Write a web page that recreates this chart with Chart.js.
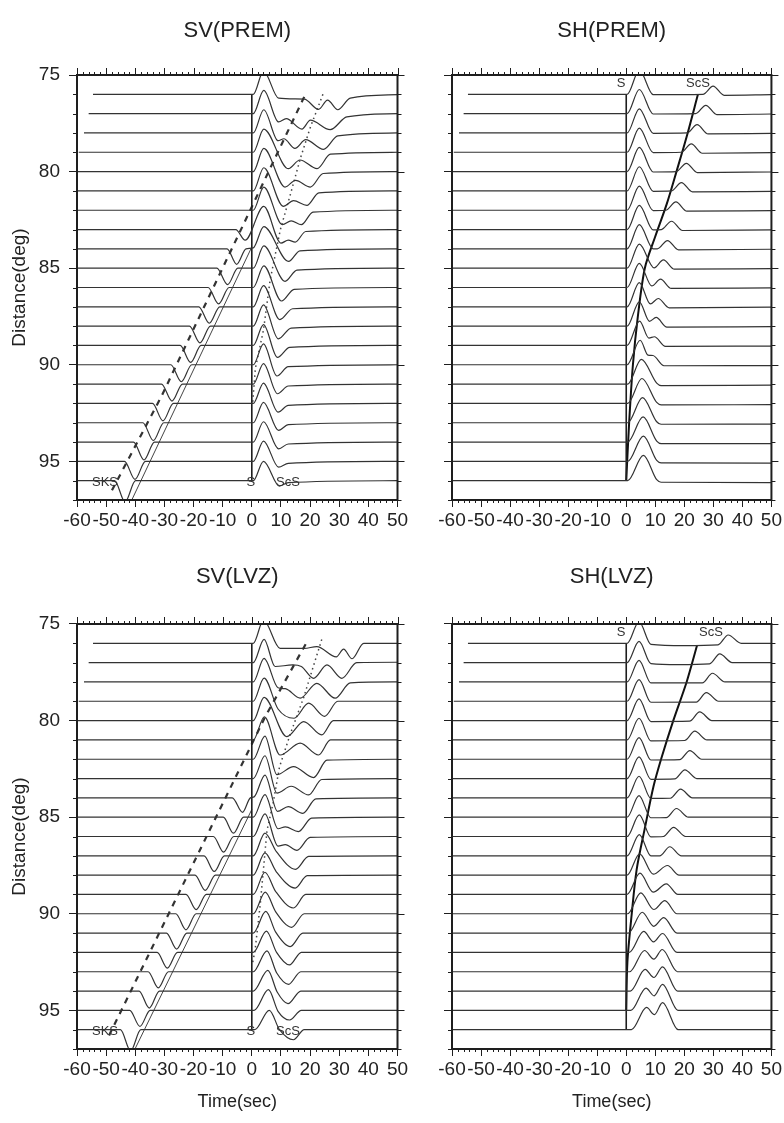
<!DOCTYPE html>
<html>
<head>
<meta charset="utf-8">
<script src="https://cdn.jsdelivr.net/npm/chart.js@4.4.1/dist/chart.umd.min.js"></script>
<style>
  body { margin: 0; background: #fff; width: 784px; height: 1123px; position: relative; overflow: hidden; }
  canvas { position: absolute; }
</style>
</head>
<body>
<script>
// epicentral distance of each trace (deg) and the reduced time where each record begins (sec)
const distances = [76, 77, 78, 79, 80, 81, 82, 83, 84, 85, 86, 87, 88, 89, 90, 91, 92, 93, 94, 95, 96];
const traceStart = [-54.5, -56, -57.6, -59.4, -60, -60, -60, -60, -60, -60, -60, -60, -60, -60, -60, -60, -60, -60, -60, -60, -60];
const xTicks = [-60, -50, -40, -30, -20, -10, 0, 10, 20, 30, 40, 50];
const yTicks = [75, 80, 85, 90, 95];

// wiggles: [time (sec), amplitude (deg, up = positive)]
const svPremTraces = [
  [[0.5,0],[4,1.2],[9.2,-0.2],[18,-0.25],[22.9,-0.78],[26,-0.3],[29.5,-0.8],[33.8,-0.2],[50,-0.02]],
  [[0.5,0],[4.1,1.2],[9.2,-0.43],[11.8,-0.26],[17.2,-0.8],[20.1,-0.34],[26.9,-0.83],[32.6,-0.17],[50,0]],
  [[0.5,0],[4.1,1.2],[9,-0.4],[11,-0.3],[14.8,-0.8],[18.5,-0.35],[24.6,-0.85],[29.5,-0.15],[50,0]],
  [[0.5,0],[4.1,1.2],[12.5,-0.85],[16.5,-0.4],[22.4,-0.85],[27,-0.1],[50,0]],
  [[0.5,0],[4.1,1.2],[11.4,-0.8],[15,-0.45],[20.1,-0.8],[24.5,-0.1],[50,0]],
  [[0.5,0],[4.1,1.2],[10.8,-0.8],[14.3,-0.5],[18.9,-0.75],[23,-0.1],[50,0]],
  [[0.5,0],[4.1,1.2],[10.5,-0.75],[13.5,-0.55],[17,-0.75],[21,-0.1],[50,0]],
  [[-5.5,0],[-2.3,-0.55],[4.1,1.2],[10,-0.7],[12.5,-0.55],[14.9,-0.65],[18.5,-0.1],[50,0]],
  [[-8.5,0],[-5.2,-0.8],[-2,0],[0.5,0.05],[4.1,1.15],[12.6,-0.65],[16.5,-0.1],[50,0]],
  [[-12,0],[-8.3,-0.85],[-4.8,0],[0.5,0],[4.1,1.15],[11.4,-0.68],[15.5,-0.1],[50,0]],
  [[-15,0],[-11.4,-0.85],[-7.8,0],[0.5,0],[4.1,1.12],[10.2,-0.7],[14.5,-0.1],[50,0]],
  [[-18.2,0],[-14.6,-0.85],[-11,0],[0.5,0],[4,1.1],[9.6,-0.66],[14,-0.1],[50,0]],
  [[-21.4,0],[-17.8,-0.87],[-14.2,0],[0.5,0],[4,1.1],[9.1,-0.66],[13.5,-0.1],[50,0]],
  [[-24.6,0],[-21,-0.88],[-17.4,0],[0.5,0],[4,1.08],[8.8,-0.62],[13,-0.1],[50,0]],
  [[-27.8,0],[-24.2,-0.88],[-20.6,0],[0.5,0],[4,1.08],[8.6,-0.58],[12.5,-0.1],[50,0]],
  [[-31,0],[-27.4,-0.88],[-23.8,0],[0.5,0],[4,1.06],[8.8,-0.5],[12.5,-0.1],[50,0]],
  [[-34.1,0],[-30.5,-0.9],[-26.9,0],[0.5,0],[4,1.05],[9,-0.45],[12.5,-0.1],[50,0]],
  [[-37.4,0],[-33.8,-0.92],[-30.2,0],[0.5,0],[4,1.05],[9.2,-0.4],[12.5,-0.1],[50,0]],
  [[-40.6,0],[-37,-0.93],[-33.4,0],[0.5,0],[4,1.05],[9.2,-0.35],[12.5,-0.1],[50,0]],
  [[-43.7,0],[-40.1,-0.93],[-36.5,0],[0.5,0],[4,1.05],[9.2,-0.3],[12.5,-0.1],[50,0]],
  [[-47.1,0],[-43.5,-1.1],[-39.9,0],[0.5,0],[4,1.0],[9.5,-0.28],[12.5,-0.1],[50,0]]
];

const shPremTraces = [
  [[0.3,0],[4.5,1.25],[9.3,-0.02],[26.4,0],[29.9,0.42],[33.7,-0.05],[50,-0.02]],
  [[0.3,0],[4.5,1.25],[9.3,-0.02],[23.9,0],[27.4,0.43],[31.2,-0.05],[50,-0.02]],
  [[0.3,0],[4.5,1.25],[9.3,-0.02],[20.9,0],[24.4,0.43],[28.2,-0.05],[50,-0.02]],
  [[0.3,0],[4.5,1.25],[9.3,-0.02],[18.9,0],[22.4,0.43],[26.2,-0.05],[50,-0.02]],
  [[0.3,0],[4.5,1.25],[9.3,-0.02],[17.2,0],[20.7,0.43],[24.5,-0.05],[50,-0.02]],
  [[0.3,0],[4.5,1.25],[9.3,-0.02],[15.5,0],[19,0.43],[22.8,-0.05],[50,-0.02]],
  [[0.3,0],[4.5,1.25],[9.3,-0.02],[13.6,0],[17.1,0.43],[20.9,-0.05],[50,-0.02]],
  [[0.3,0],[4.5,1.25],[9.3,-0.02],[12.1,0],[15.6,0.43],[19.4,-0.05],[50,-0.02]],
  [[0.3,0],[4.5,1.25],[9.3,0],[10.7,0],[14.2,0.43],[18,-0.05],[50,-0.02]],
  [[0.3,0],[4.5,1.25],[9.6,0.02],[12.8,0.43],[16.6,-0.05],[50,-0.02]],
  [[0.3,0],[4.5,1.25],[8.8,0.08],[11.8,0.43],[15.5,-0.05],[50,-0.02]],
  [[0.3,0],[4.5,1.25],[8.3,0.15],[11,0.43],[14.8,-0.05],[50,-0.02]],
  [[0.3,0],[4.5,1.26],[8,0.25],[10.3,0.45],[14,-0.05],[50,-0.03]],
  [[0.3,0],[4.6,1.26],[7.8,0.38],[9.7,0.45],[13.5,-0.05],[50,-0.03]],
  [[0.3,0],[4.8,1.27],[7.5,0.5],[9.2,0.48],[13,-0.05],[50,-0.04]],
  [[0.5,0],[5.2,1.28],[10.5,0.05],[12,-0.08],[50,-0.05]],
  [[0.5,0],[5.4,1.29],[10.5,0.05],[12,-0.08],[50,-0.06]],
  [[0.5,0],[5.6,1.3],[10.5,0.05],[12,-0.08],[50,-0.07]],
  [[0.5,0],[5.8,1.3],[10.5,0.05],[12,-0.08],[50,-0.08]],
  [[0.5,0],[5.9,1.31],[10.5,0.05],[12,-0.08],[50,-0.09]],
  [[0.5,0],[5.9,1.31],[10.5,0.05],[12,-0.08],[50,-0.1]]
];

const svLvzTraces = [
  [[0.5,0],[4,1.2],[9.7,-0.26],[18,-0.26],[22.3,-0.17],[29,-0.7],[31.5,-0.3],[34.4,-0.8],[38.4,0],[50,0]],
  [[0.5,0],[4.2,1.2],[8,-0.2],[14,-0.12],[17,-0.2],[21.2,-0.81],[25.8,-0.12],[30.9,-0.81],[36,0],[50,0.02]],
  [[0.5,0],[4.2,1.22],[9,-0.3],[11.5,-0.35],[16.6,-0.84],[22.3,-0.07],[28.6,-0.84],[33.8,-0.05],[50,0]],
  [[0.5,0],[4.2,1.2],[9,-0.4],[14.5,-0.88],[19.5,-0.1],[25,-0.78],[29.5,0],[50,0]],
  [[0.5,0],[4.2,1.2],[12,-0.83],[17.8,-0.05],[24,-0.74],[28,0],[50,0]],
  [[0.5,0],[4.3,1.2],[9.7,-0.78],[16.6,-0.17],[22.9,-0.78],[27,0],[50,0]],
  [[0.5,0],[4.5,1.2],[8.6,-0.8],[14.3,-0.38],[21.2,-0.95],[25.8,-0.05],[50,0]],
  [[0.5,0],[4.5,1.18],[8.6,-0.75],[13.5,-0.4],[19.5,-0.85],[24,-0.05],[50,0]],
  [[-6.7,0],[-3.2,-0.75],[-0.5,0],[0.8,0.05],[4.5,1.18],[8.8,-0.7],[12.5,-0.45],[17.5,-0.8],[22,-0.05],[50,0]],
  [[-9.8,0],[-6.3,-0.83],[-2.8,0],[0.5,0],[4.5,1.17],[9,-0.6],[11.5,-0.5],[16,-0.75],[20.5,-0.05],[50,0]],
  [[-13.2,0],[-9.7,-0.81],[-6.2,0],[0.5,0],[4.5,1.17],[9,-0.5],[11.5,-0.42],[15.5,-0.72],[20,-0.05],[50,0]],
  [[-16.4,0],[-12.9,-0.81],[-9.4,0],[0.5,0],[4.5,1.17],[8.5,0.2],[15,-0.7],[19.5,-0.03],[50,0]],
  [[-19.5,0],[-16,-0.79],[-12.5,0],[0.5,0],[4.5,1.15],[8.3,0.2],[14.9,-0.67],[19,-0.03],[50,0]],
  [[-22.6,0],[-19.1,-0.79],[-15.6,0],[0.5,0],[4.5,1.15],[8.2,0.15],[14.3,-0.7],[18.5,0],[50,0]],
  [[-26.1,0],[-22.6,-0.83],[-19.1,0],[0.5,0],[4.6,1.12],[8.2,0.1],[13.7,-0.7],[18,0],[50,0]],
  [[-29.3,0],[-25.8,-0.83],[-22.3,0],[0.5,0],[4.8,1.12],[8.2,0.05],[13.2,-0.7],[17.5,0],[50,0]],
  [[-32.5,0],[-29,-0.81],[-25.5,0],[0.5,0],[5,1.1],[8.5,0],[12.9,-0.65],[17,0],[50,0]],
  [[-35.6,0],[-32.1,-0.84],[-28.6,0],[0.5,0],[5.2,1.08],[8.5,-0.05],[12.6,-0.65],[16.8,0],[50,0]],
  [[-38.7,0],[-35.2,-0.88],[-31.7,0],[0.5,0],[5.5,1.07],[8.7,-0.05],[12.4,-0.65],[16.8,0],[50,0]],
  [[-41.9,0],[-38.4,-0.83],[-34.9,0],[0.8,0],[5.7,1.07],[9,-0.05],[13,-0.5],[17,0],[50,0]],
  [[-45.1,0],[-41.6,-1.1],[-38.1,0],[1,0],[6,1.0],[9.5,0],[14.3,-0.52],[18,0],[50,0]]
];

const shLvzTraces = [
  [[0.3,0],[4.4,1.12],[8.5,-0.05],[20,-0.12],[31.6,-0.08],[35.1,0.43],[39.6,0],[50,0]],
  [[0.3,0],[4.4,1.1],[8.5,-0.05],[18,-0.1],[28.7,-0.06],[32.2,0.45],[36.5,0],[50,0]],
  [[0.3,0],[4.4,1.12],[8.5,-0.05],[26.2,-0.05],[29.7,0.45],[34,0],[50,0]],
  [[0.3,0],[4.4,1.12],[8.5,-0.05],[24.1,-0.04],[27.6,0.45],[31.8,0],[50,0]],
  [[0.3,0],[4.4,1.12],[8.5,-0.05],[21.8,-0.03],[25.3,0.45],[29.5,0],[50,0]],
  [[0.3,0],[4.4,1.12],[8.5,-0.05],[20.1,-0.03],[23.6,0.45],[27.8,0],[50,0]],
  [[0.3,0],[4.4,1.12],[8.5,-0.04],[18.4,-0.02],[21.9,0.45],[26,0],[50,0]],
  [[0.3,0],[4.4,1.12],[8.5,-0.04],[16.7,-0.02],[20.2,0.45],[24.3,0],[50,0]],
  [[0.3,0],[4.4,1.12],[8.5,-0.03],[15.2,-0.02],[18.7,0.45],[22.8,0],[50,0]],
  [[0.3,0],[4.4,1.12],[8.5,-0.03],[13.8,-0.02],[17.3,0.45],[21.4,0],[50,0]],
  [[0.3,0],[4.5,1.12],[8.5,-0.02],[12.8,0],[16.3,0.47],[20.4,0],[50,0]],
  [[0.3,0],[4.5,1.1],[8.5,0],[11.5,0],[15,0.47],[19,0],[50,0]],
  [[0.3,0],[4.6,1.1],[9.3,0.05],[14.2,0.5],[18.2,0],[50,0]],
  [[0.3,0],[4.7,1.1],[9.3,0.12],[13.8,0.55],[17.8,0],[50,0]],
  [[0.5,0],[5,1.08],[9.5,0.22],[13.3,0.68],[17.5,0],[50,0]],
  [[0.7,0],[5.5,1.08],[9.5,0.35],[12.9,0.8],[17.5,0],[50,0]],
  [[1,0],[6,1.09],[9.4,0.55],[12.5,0.98],[17.5,0],[50,0]],
  [[1.2,0],[6.3,1.1],[9.5,0.65],[12.4,1.15],[17.6,0],[50,0]],
  [[1.4,0],[6.5,1.12],[9.5,0.7],[12.5,1.25],[17.7,0],[50,0]],
  [[1.6,0],[6.8,1.15],[9.6,0.75],[12.5,1.35],[17.8,0],[50,0]],
  [[1.8,0],[7,1.15],[9.7,0.78],[12.5,1.4],[17.9,0],[50,0]]
];

// travel-time curves: [time (sec), distance (deg)]
const sLine = [[0, 76], [0, 96]];
const svPremDashed = [[-48, 96.5], [-30.9, 91.6], [18.4, 76]];
const svPremDotted = [[24.4,76],[20.1,77.7],[16.7,79.3],[13.2,81.2],[9.8,83],[6.3,85.6],[4,88.2],[1.2,90.2],[0.3,92]];
const svPremSks = [[-41.2, 97], [0, 83.9]];
const svLvzDashed = [[-49, 96.3], [4.6, 79.8], [19, 75.9]];
const svLvzDotted = [[24,75.8],[17.8,78.8],[13.2,80.7],[9.5,82.4],[7.4,84.2],[5.2,85.7],[2.9,89.5],[1.1,91.9],[0.2,92.6]];
const svLvzSks = [[-40.1, 97], [0, 84.6]];
const shPremScs = [[24.7,76],[20.8,78.2],[17.3,80],[13.9,81.7],[9.9,83.4],[6.4,85],[4,87.5],[2.3,90],[1,93],[0,96]];
const shLvzScs = [[24.4,76.1],[20.8,78],[16.2,80],[12.2,81.9],[9.4,83.4],[6.5,85.5],[3.6,87.7],[1.9,90],[0.4,92.5],[0,95]];

// phase names: [text, time, distance]
const svPhaseLabels = [['SKS', -50.4, 96.1], ['S', -0.3, 96.1], ['ScS', 12.4, 96.1]];
const shPremPhaseLabels = [['S', -1.8, 75.45], ['ScS', 24.7, 75.45]];
const shLvzPhaseLabels = [['S', -1.8, 75.45], ['ScS', 29.2, 75.45]];

const FONT = "'Liberation Sans', Arial, Helvetica, sans-serif";
const INK = '#1e1e1e';

var toXY = function (pts) {
    return pts.map(function (p) { return {x: p[0], y: p[1]}; });
};

var framePlugin = {
    id: 'frame',
    afterDraw: function (chart) {
        var ctx = chart.ctx, a = chart.chartArea, x = chart.scales.x, y = chart.scales.y;
        ctx.save();
        ctx.strokeStyle = INK;
        ctx.lineWidth = 1;
        ctx.beginPath();
        for (var t = -60; t <= 50; t += 2) {
            var px = Math.round(x.getPixelForValue(t)) + 0.5;
            var major = t % 10 === 0;
            ctx.moveTo(px, a.top); ctx.lineTo(px, a.top - (major ? 7 : 3));
            if (!major) { ctx.moveTo(px, a.bottom); ctx.lineTo(px, a.bottom + 3); }
        }
        for (var d = 75; d <= 97; d++) {
            var py = Math.round(y.getPixelForValue(d)) + 0.5;
            var big = d % 5 === 0;
            ctx.moveTo(a.right, py); ctx.lineTo(a.right + (big ? 7 : 4), py);
            if (!big) { ctx.moveTo(a.left, py); ctx.lineTo(a.left - 4, py); }
        }
        ctx.stroke();
        ctx.lineWidth = 2;
        ctx.strokeRect(a.left, a.top, a.right - a.left, a.bottom - a.top);

        var labels = chart.options.plugins.frame.labels || [];
        ctx.font = '13px ' + FONT;
        ctx.fillStyle = '#333';
        ctx.textAlign = 'center';
        ctx.textBaseline = 'middle';
        labels.forEach(function (l) {
            ctx.fillText(l[0], x.getPixelForValue(l[1]), y.getPixelForValue(l[2]));
        });
        ctx.restore();
    }
};

function makePanel(p) {
    var canvas = document.createElement('canvas');
    canvas.width = p.w; canvas.height = p.h;
    canvas.style.left = p.left + 'px'; canvas.style.top = p.top + 'px';
    document.body.appendChild(canvas);

    var datasets = [];
    distances.forEach(function (d, i) {
        var pts = [[traceStart[i], 0]].concat(p.traces[i]);
        datasets.push({
            data: pts.map(function (q) { return {x: q[0], y: d - q[1]}; }),
            borderColor: '#333', borderWidth: 1.2, pointRadius: 0,
            cubicInterpolationMode: 'monotone', clip: 0
        });
    });
    p.lines.forEach(function (l) {
        datasets.push(Object.assign({
            data: toXY(l.data), pointRadius: 0, tension: 0, clip: 0,
            borderColor: INK, borderWidth: 1.5
        }, l.style));
    });

    new Chart(canvas, {
        type: 'line',
        data: {datasets: datasets},
        options: {
            responsive: false, animation: false, events: [],
            layout: {padding: {left: 0, top: 0, right: p.padRight, bottom: 0}},
            plugins: {
                legend: {display: false}, tooltip: {enabled: false},
                title: {
                    display: true, text: p.title, fullSize: false, color: '#222',
                    font: {family: FONT, size: 22, weight: 'normal'},
                    padding: {top: p.titlePad[0], bottom: p.titlePad[1]}
                },
                frame: {labels: p.labels}
            },
            scales: {
                x: {
                    type: 'linear', min: -60, max: 50,
                    afterBuildTicks: function (s) { s.ticks = xTicks.map(function (v) { return {value: v}; }); },
                    afterFit: function (s) { s.height = p.xHeight; },
                    border: {display: false},
                    grid: {drawOnChartArea: false, drawTicks: true, tickLength: 7, color: INK, lineWidth: 1},
                    ticks: {autoSkip: false, maxRotation: 0, minRotation: 0, padding: 2, color: '#222',
                        font: {family: FONT, size: 19}, callback: function (v) { return String(v); }},
                    title: {display: p.xTitle, text: 'Time(sec)', color: '#222',
                        font: {family: FONT, size: 18}, padding: {top: 0, bottom: 10}}
                },
                y: {
                    type: 'linear', min: 75, max: 97, reverse: true,
                    afterBuildTicks: function (s) { s.ticks = yTicks.map(function (v) { return {value: v}; }); },
                    afterFit: function (s) { s.width = p.yWidth; },
                    border: {display: false},
                    grid: {drawOnChartArea: false, drawTicks: true, tickLength: 8, color: INK, lineWidth: 1},
                    ticks: {display: p.yLabels, padding: 9, color: '#222',
                        font: {family: FONT, size: 19}, callback: function (v) { return String(v); }},
                    title: {display: p.yLabels, text: 'Distance(deg)', color: '#222',
                        font: {family: FONT, size: 19}, padding: {top: 8, bottom: 0}}
                }
            }
        },
        plugins: [framePlugin]
    });
}

var sStyle = {borderWidth: 1.6, borderColor: INK};
var dashStyle = {borderWidth: 2.2, borderColor: '#333', borderDash: [6, 6]};
var dotStyle = {borderWidth: 1.5, borderColor: '#444', borderDash: [1.5, 3.5]};
var thinStyle = {borderWidth: 1, borderColor: '#444'};
var scsStyle = {borderWidth: 2, borderColor: '#111', tension: 0.3};

makePanel({title: 'SV(PREM)', traces: svPremTraces, labels: svPhaseLabels,
    lines: [{data: sLine, style: sStyle}, {data: svPremDashed, style: dashStyle},
            {data: svPremDotted, style: dotStyle}, {data: svPremSks, style: thinStyle}],
    left: 0, top: 0, w: 412, h: 560, yWidth: 77, xHeight: 60, padRight: 14.5,
    titlePad: [17.8, 30.8], yLabels: true, xTitle: false});
makePanel({title: 'SH(PREM)', traces: shPremTraces, labels: shPremPhaseLabels,
    lines: [{data: sLine, style: sStyle}, {data: shPremScs, style: scsStyle}],
    left: 412, top: 0, w: 372, h: 560, yWidth: 40, xHeight: 60, padRight: 11,
    titlePad: [17.8, 30.8], yLabels: false, xTitle: false});
makePanel({title: 'SV(LVZ)', traces: svLvzTraces, labels: svPhaseLabels,
    lines: [{data: sLine, style: sStyle}, {data: svLvzDashed, style: dashStyle},
            {data: svLvzDotted, style: dotStyle}, {data: svLvzSks, style: thinStyle}],
    left: 0, top: 560, w: 412, h: 563, yWidth: 77, xHeight: 74, padRight: 14.5,
    titlePad: [3.8, 33.8], yLabels: true, xTitle: true});
makePanel({title: 'SH(LVZ)', traces: shLvzTraces, labels: shLvzPhaseLabels,
    lines: [{data: sLine, style: sStyle}, {data: shLvzScs, style: scsStyle}],
    left: 412, top: 560, w: 372, h: 563, yWidth: 40, xHeight: 74, padRight: 11,
    titlePad: [3.8, 33.8], yLabels: false, xTitle: true});
</script>
</body>
</html>
